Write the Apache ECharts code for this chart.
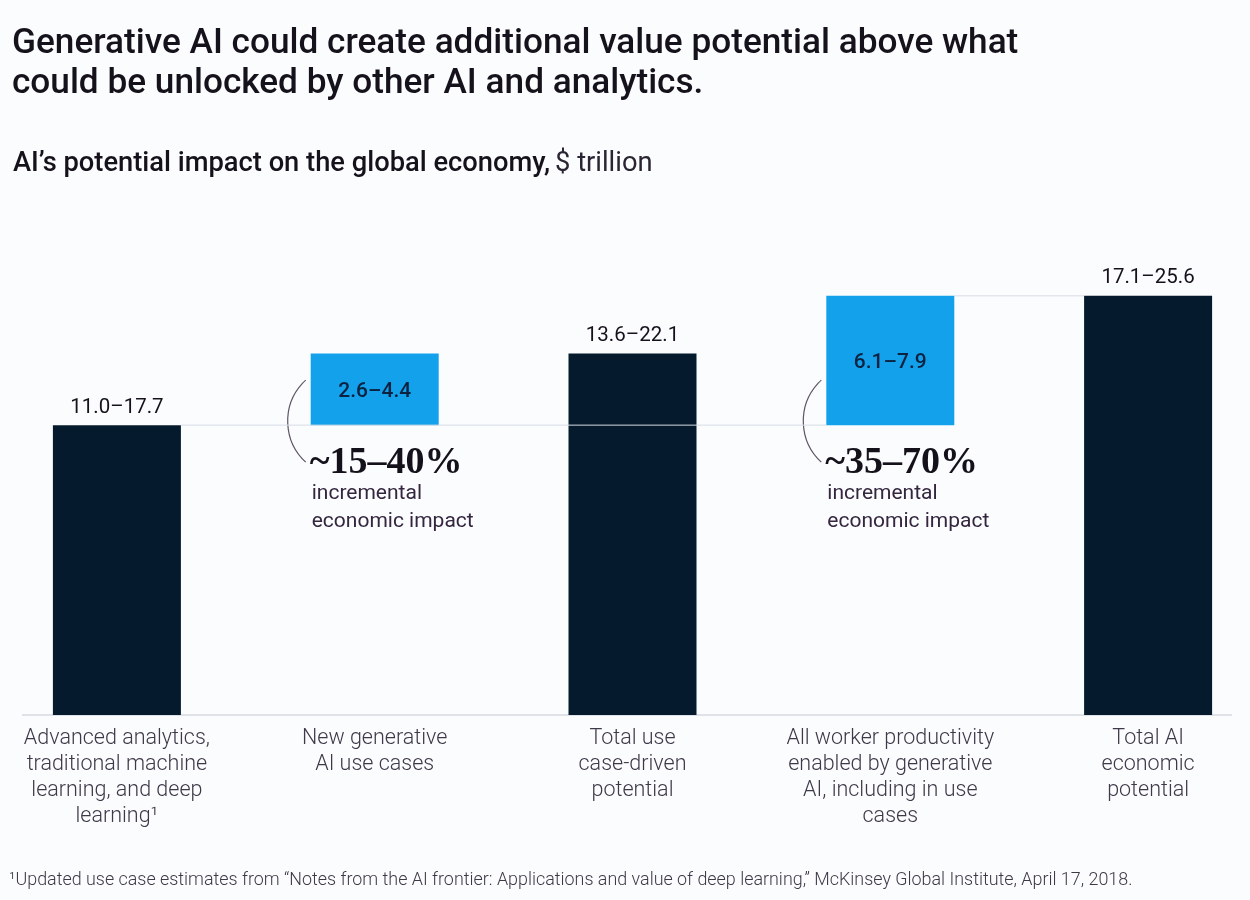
<!DOCTYPE html>
<html><head><meta charset="utf-8">
<script src="https://cdn.jsdelivr.net/npm/echarts@6/dist/echarts.min.js"></script>
<style>html,body{margin:0;padding:0;background:#fbfcfe}#c{width:1250px;height:900px}</style>
</head><body><div id="c"></div>
<script>
// ---- data ----
const categories = [
  'Advanced analytics,\ntraditional machine\nlearning, and deep\nlearning\u00b9',
  'New generative\nAI use cases',
  'Total use\ncase-driven\npotential',
  'All worker productivity\nenabled by generative\nAI, including in use\ncases',
  'Total AI\neconomic\npotential'
];
const barBase   = [0, 14.35, 0, 14.35, 0];        // invisible offset ($ trillion, midpoint)
const barValues = [14.35, 3.55, 17.9, 6.4, 20.75]; // visible bar height
const barKinds  = ['total', 'increment', 'total', 'increment', 'total'];
const rangeLabels = ['11.0\u201317.7', '2.6\u20134.4', '13.6\u201322.1', '6.1\u20137.9', '17.1\u201325.6'];
const annotationPct = [null, '~15\u201340%', null, '~35\u201370%', null];
const annotationText = 'incremental\neconomic impact';
const titleText = 'Generative AI could create additional value potential above what\ncould be unlocked by other AI and analytics.';
const subtitleBold = 'AI\u2019s potential impact on the global economy,';
const subtitleUnit = '$ trillion';
const footnoteText = '\u00b9Updated use case estimates from \u201cNotes from the AI frontier: Applications and value of deep learning,\u201d McKinsey Global Institute, April 17, 2018.';

// ---- style ----
const NAVY = '#051a2d';
const BLUE = '#14a1ec';
const BAR_W = 128;

const chart = echarts.init(document.getElementById('c'), null, {renderer: 'canvas'});

const option = {
  backgroundColor: '#fbfcfe',
  animation: false,
  title: [
    { text: titleText, left: 7, top: 19,
      textStyle: { fontFamily: 'Roboto', fontWeight: 500, fontSize: 35.2, lineHeight: 40, color: '#16121c' } },
    { text: '{b|' + subtitleBold + '} {r|' + subtitleUnit + '}', left: 8, top: 146,
      textStyle: { rich: {
        b: { fontFamily: 'Roboto', fontWeight: 500, fontSize: 27.3, color: '#16121c' },
        r: { fontFamily: 'Roboto', fontWeight: 400, fontSize: 27.3, color: '#2a2433' }
      } } },
    { text: footnoteText, left: 4, top: 867,
      textStyle: { fontFamily: 'Roboto', fontWeight: 300, fontSize: 17.9, color: '#3e3946' } }
  ],
  grid: { left: -12, width: 1289, top: 210, bottom: 185, outerBoundsMode: 'none', containLabel: false },
  xAxis: {
    type: 'category', data: categories,
    axisLine: { show: false }, axisTick: { show: false },
    axisLabel: { interval: 0, margin: 11, fontFamily: 'Roboto', fontWeight: 300, fontSize: 21.5,
      lineHeight: 26, color: '#3e3848', verticalAlign: 'top' }
  },
  yAxis: { type: 'value', min: 0, max: 25, show: false, splitLine: { show: false } },
  series: [
    { type: 'bar', stack: 'w', barWidth: BAR_W, silent: true,
      itemStyle: { color: 'rgba(0,0,0,0)' }, data: barBase },
    { type: 'bar', stack: 'w', barWidth: BAR_W, silent: true,
      data: barValues.map((v, i) => ({
        value: v,
        itemStyle: { color: barKinds[i] === 'total' ? NAVY : BLUE },
        label: barKinds[i] === 'total'
          ? { show: true, position: 'top', distance: 7, formatter: rangeLabels[i],
              fontFamily: 'Roboto', fontSize: 20.5, color: '#16121c' }
          : { show: true, position: 'inside', offset: [0, 2], formatter: rangeLabels[i],
              fontFamily: 'Roboto', fontWeight: 500, fontSize: 21, color: '#0b2240' }
      })) }
  ]
};
chart.setOption(option);

// ---- decorations computed from the axes ----
function px(i, v) { return chart.convertToPixel({ gridIndex: 0 }, [i, v]); }
const graphics = [];
const y0 = px(0, 0)[1];
const firstX = px(0, 0)[0], lastX = px(categories.length - 1, 0)[0];
graphics.push({ type: 'line', silent: true, z: 1,
  shape: { x1: firstX - 95, y1: y0, x2: lastX + 84, y2: y0 },
  style: { stroke: '#c4c8cf', lineWidth: 1.2 } });

// connector lines between bars
const tops = barValues.map((v, i) => barBase[i] + v);
function connector(iFrom, iTo, val) {
  const a = px(iFrom, val), b = px(iTo, val);
  graphics.push({ type: 'line', silent: true, z: 10,
    shape: { x1: a[0] + BAR_W / 2, y1: a[1], x2: b[0] - BAR_W / 2, y2: b[1] },
    style: { stroke: '#d6dce4', lineWidth: 1 } });
}
connector(0, 3, tops[0]);
connector(3, 4, tops[3]);

// brackets + annotations next to increment bars
barKinds.forEach((k, i) => {
  if (k !== 'increment') return;
  const c = px(i, barBase[i]);
  const left = c[0] - BAR_W / 2;
  const yb = c[1];
  const endX = left - 5, spanY = 41, depth = 18;
  // circle through (endX, yb-spanY), (endX-depth, yb), (endX, yb+spanY)
  const ccx = endX + (spanY * spanY - depth * depth) / (2 * depth);
  const r = ccx - (endX - depth);
  const ang = Math.atan2(spanY, endX - ccx);
  graphics.push({ type: 'arc', silent: true,
    shape: { cx: ccx, cy: yb - 4, r: r, startAngle: ang, endAngle: 2 * Math.PI - ang, clockwise: true },
    style: { stroke: '#5e5466', lineWidth: 1.2, fill: null } });
  graphics.push({ type: 'text', silent: true,
    style: { x: left - 1, y: yb + 38, text: annotationPct[i], fill: '#14111a',
      font: 'bold 38px "Liberation Serif", "DejaVu Serif", serif', textVerticalAlign: 'middle' } });
  graphics.push({ type: 'text', silent: true,
    style: { x: left + 1, y: yb + 55, text: annotationText, fill: '#34263f',
      font: '400 21px Roboto, "Liberation Sans", sans-serif', lineHeight: 27.5, textVerticalAlign: 'top' } });
});
chart.setOption({ graphic: graphics });
</script>
</body></html>
